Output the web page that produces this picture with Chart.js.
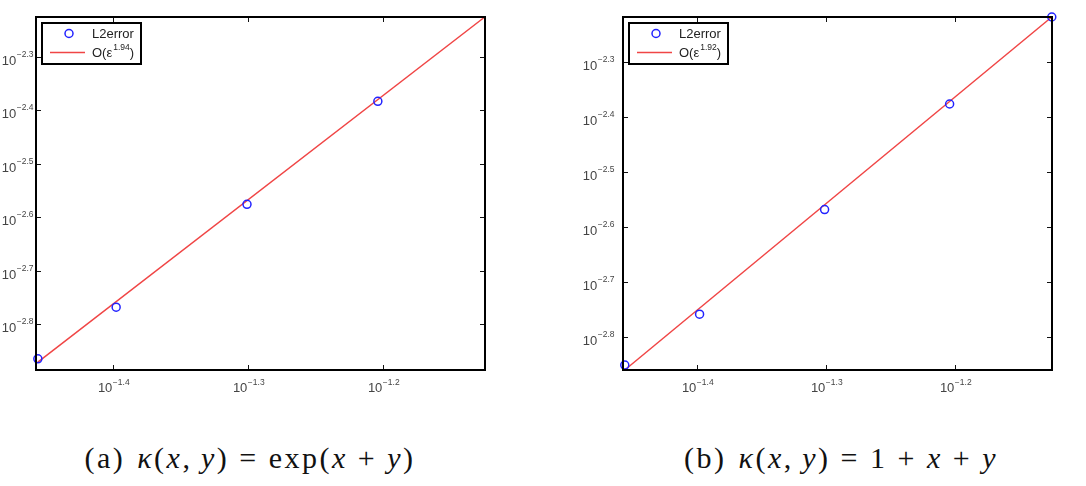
<!DOCTYPE html>
<html>
<head>
<meta charset="utf-8">
<script src="https://cdn.jsdelivr.net/npm/chart.js@4.4.1/dist/chart.umd.min.js"></script>
<style>
    body { margin: 0; background: #fff; }
    #wrap { position: relative; width: 1086px; height: 486px; overflow: hidden; }
    .panel { position: absolute; top: 0; }
    .caption {
        position: absolute;
        top: 438px;
        font-family: "Liberation Serif", "DejaVu Serif", serif;
        font-size: 30px;
        line-height: 40px;
        letter-spacing: 2.5px;
        color: #111;
        white-space: nowrap;
        transform: translateX(-50%);
    }
    .caption i { font-style: italic; }
    .caption .op { margin: 0 10px; }
    .caption .sp { margin-left: 12px; }
</style>
</head>
<body>
<div id="wrap">
    <div class="panel" style="left:0px;width:500px;height:410px;">
        <canvas id="panel-a" width="500" height="410"></canvas>
    </div>
    <div class="panel" style="left:540px;width:546px;height:410px;">
        <canvas id="panel-b" width="546" height="410"></canvas>
    </div>
    <div class="caption" style="left:250px;">(a)<span class="sp"></span><i>κ</i>(<i>x</i>,&thinsp;<i>y</i>)<span class="op">=</span>exp(<i>x</i><span class="op">+</span><i>y</i>)</div>
    <div class="caption" style="left:841px;">(b)<span class="sp"></span><i>κ</i>(<i>x</i>,&thinsp;<i>y</i>)<span class="op">=</span>1<span class="op">+</span><i>x</i><span class="op">+</span><i>y</i></div>
</div>
<script>
// mesh sizes (epsilon) and measured L2 errors
const epsValues = [0.035, 0.04, 0.05, 0.0625, 0.075];
const errorsA = [0.001364, 0.001704, 0.002653, 0.004135];
const errorsB = [0.001409, 0.001743, 0.002701, 0.004203, 0.00605];

// fitted reference lines O(eps^p), end points
const fitEps = [0.035, 0.075];
const fitA = [0.001345, 0.005944];
const fitB = [0.00138, 0.00605];
const rateA = "1.94";
const rateB = "1.92";

// axis ranges and tick labels (as powers of ten)
const xRange = [0.03489, 0.07503];
const yRangeA = [0.001345, 0.005944];
const yRangeB = [0.00138, 0.00605];
const xTickExps = ["-1.4", "-1.3", "-1.2"];
const yTickExps = ["-2.8", "-2.7", "-2.6", "-2.5", "-2.4", "-2.3"];

const tickFont = '13px "Liberation Sans", Arial, sans-serif';
const expFont = '8.5px "Liberation Sans", Arial, sans-serif';
const textColor = "#444";

function drawPower(ctx, exp, x, y, align) {
    // "10" with a raised exponent, x is the anchor
    const label = exp.replace("-", "\u2212");
    ctx.font = tickFont;
    const w10 = ctx.measureText("10").width;
    ctx.font = expFont;
    const wExp = ctx.measureText(label).width;
    let start = x;
    if (align === "center") start = x - (w10 + wExp) / 2;
    if (align === "right") start = x - (w10 + wExp);
    ctx.fillStyle = textColor;
    ctx.textAlign = "left";
    ctx.textBaseline = "alphabetic";
    ctx.font = tickFont;
    ctx.fillText("10", start, y);
    ctx.font = expFont;
    ctx.fillText(label, start + w10 + 0.5, y - 7.5);
}

function matlabAxes(yLabelGap, rate) {
    return {
        id: "matlabAxes",
        afterDraw(chart) {
            const ctx = chart.ctx;
            const area = chart.chartArea;
            const xs = chart.scales.x;
            const ys = chart.scales.y;
            ctx.save();
            // ticks on all four sides, pointing in
            ctx.strokeStyle = "#111";
            ctx.lineWidth = 1;
            const tl = 5;
            xTickExps.forEach((e) => {
                const px = Math.round(xs.getPixelForValue(Math.pow(10, parseFloat(e)))) + 0.5;
                ctx.beginPath();
                ctx.moveTo(px, area.bottom);
                ctx.lineTo(px, area.bottom - tl);
                ctx.moveTo(px, area.top);
                ctx.lineTo(px, area.top + tl);
                ctx.stroke();
                drawPower(ctx, e, px, area.bottom + 22, "center");
            });
            yTickExps.forEach((e) => {
                const py = Math.round(ys.getPixelForValue(Math.pow(10, parseFloat(e)))) + 0.5;
                ctx.beginPath();
                ctx.moveTo(area.left, py);
                ctx.lineTo(area.left + tl, py);
                ctx.moveTo(area.right, py);
                ctx.lineTo(area.right - tl, py);
                ctx.stroke();
                drawPower(ctx, e, area.left - yLabelGap, py + 7, "right");
            });
            // frame
            ctx.lineWidth = 2;
            ctx.strokeStyle = "#000";
            ctx.strokeRect(area.left, area.top, area.right - area.left, area.bottom - area.top);

            // legend
            const lx = area.left + 6;
            const ly = area.top + 6;
            const lw = 99;
            const lh = 41;
            ctx.fillStyle = "#fff";
            ctx.fillRect(lx, ly, lw, lh);
            ctx.strokeRect(lx, ly, lw, lh);
            ctx.lineWidth = 1.5;
            ctx.strokeStyle = "#2222ff";
            ctx.beginPath();
            ctx.arc(lx + 27, ly + 10.5, 4, 0, Math.PI * 2);
            ctx.stroke();
            ctx.strokeStyle = "#f04545";
            ctx.beginPath();
            ctx.moveTo(lx + 8, ly + 29.5);
            ctx.lineTo(lx + 43, ly + 29.5);
            ctx.stroke();
            ctx.fillStyle = "#222";
            ctx.font = tickFont;
            ctx.textBaseline = "alphabetic";
            ctx.fillText("L2error", lx + 50, ly + 15);
            ctx.fillText("O(\u03b5", lx + 50, ly + 34);
            const w1 = ctx.measureText("O(\u03b5").width;
            ctx.font = expFont;
            ctx.fillText(rate, lx + 51 + w1, ly + 27);
            const w2 = ctx.measureText(rate).width;
            ctx.font = tickFont;
            ctx.fillText(")", lx + 51 + w1 + w2, ly + 34);
            ctx.restore();
        },
    };
}

function makePanel(canvasId, errors, fit, yRange, padding, yLabelGap, rate) {
    const points = errors.map((v, i) => ({ x: epsValues[i], y: v }));
    const fitLine = fit.map((v, i) => ({ x: fitEps[i], y: v }));
    return new Chart(document.getElementById(canvasId), {
        type: "scatter",
        data: {
            datasets: [
                {
                    label: "L2error",
                    data: points,
                    showLine: false,
                    pointStyle: "circle",
                    pointRadius: 4,
                    pointBorderWidth: 1.5,
                    pointBorderColor: "#2222ff",
                    pointBackgroundColor: "rgba(0,0,0,0)",
                    clip: false,
                },
                {
                    label: "O(eps^" + rate + ")",
                    data: fitLine,
                    showLine: true,
                    borderColor: "#f04545",
                    borderWidth: 1.5,
                    pointRadius: 0,
                    clip: false,
                },
            ],
        },
        options: {
            responsive: false,
            animation: false,
            layout: { padding: padding },
            plugins: {
                legend: { display: false },
                tooltip: { enabled: false },
            },
            scales: {
                x: {
                    type: "logarithmic",
                    display: false,
                    min: xRange[0],
                    max: xRange[1],
                },
                y: {
                    type: "logarithmic",
                    display: false,
                    min: yRange[0],
                    max: yRange[1],
                },
            },
        },
        plugins: [matlabAxes(yLabelGap, rate)],
    });
}

makePanel("panel-a", errorsA, fitA, yRangeA, { left: 36, top: 17, right: 15, bottom: 40 }, 3, rateA);
makePanel("panel-b", errorsB, fitB, yRangeB, { left: 83, top: 17, right: 34, bottom: 40 }, 9, rateB);
</script>
</body>
</html>
